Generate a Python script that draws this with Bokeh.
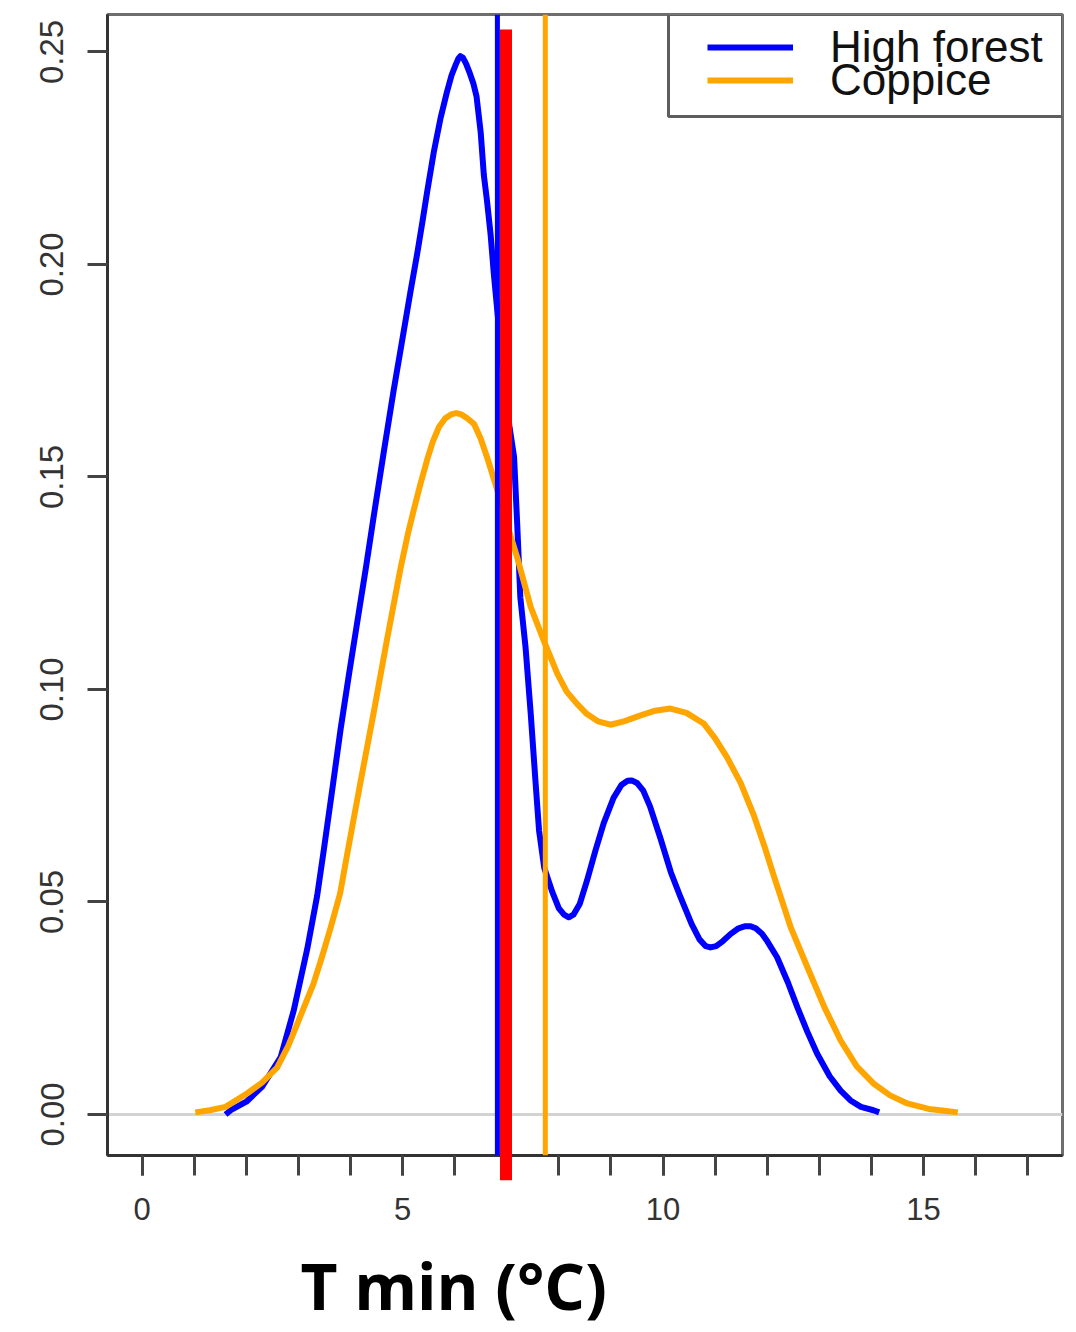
import numpy as np
from bokeh.plotting import figure
from bokeh.models import (Span, FixedTicker, PrintfTickFormatter, Legend, LegendItem,
                          Title, Range1d, BoxAnnotation)
from bokeh.embed import file_html
from bokeh.resources import INLINE

# ---- data ----
hf_x = [1.60, 1.70, 2.00, 2.30, 2.66, 2.91, 3.17, 3.36, 3.49, 3.65, 3.81, 3.97, 4.13, 4.30,
        4.45, 4.64, 4.83, 4.99, 5.15, 5.28, 5.38, 5.47, 5.60, 5.73, 5.85, 5.94, 6.02, 6.07,
        6.11, 6.16, 6.22, 6.29, 6.36, 6.42, 6.50, 6.56, 6.62, 6.69, 6.75, 6.85, 6.95, 7.05,
        7.14, 7.20, 7.26, 7.36, 7.46, 7.55, 7.62, 7.72, 7.87, 8.00, 8.10, 8.19, 8.28, 8.40,
        8.54, 8.70, 8.86, 9.05, 9.20, 9.32, 9.40, 9.50, 9.62, 9.75, 9.95, 10.15, 10.34,
        10.55, 10.70, 10.82, 10.91, 11.02, 11.15, 11.30, 11.45, 11.58, 11.68, 11.78, 11.90,
        12.00, 12.19, 12.40, 12.58, 12.77, 12.96, 13.20, 13.41, 13.60, 13.80, 14.04, 14.15]
hf_y = [0.0000, 0.0010, 0.0030, 0.0065, 0.0135, 0.0245, 0.0390, 0.0515, 0.0625, 0.0765,
        0.0907, 0.1035, 0.1159, 0.1290, 0.1411, 0.1560, 0.1705, 0.1820, 0.1935, 0.2025,
        0.2100, 0.2170, 0.2265, 0.2345, 0.2405, 0.2445, 0.2470, 0.2484, 0.2490, 0.2486,
        0.2472, 0.2450, 0.2425, 0.2395, 0.2310, 0.2210, 0.2150, 0.2070, 0.1980, 0.1850,
        0.1720, 0.1620, 0.1547, 0.1390, 0.1217, 0.1100, 0.0943, 0.0786, 0.0668, 0.0580,
        0.0525, 0.0485, 0.0470, 0.0464, 0.0470, 0.0495, 0.0550, 0.0620, 0.0685, 0.0745,
        0.0775, 0.0785, 0.0786, 0.0780, 0.0762, 0.0725, 0.0650, 0.0570, 0.0510, 0.0448,
        0.0412, 0.0396, 0.0393, 0.0396, 0.0408, 0.0425, 0.0438, 0.0443, 0.0443, 0.0438,
        0.0425, 0.0408, 0.0370, 0.0310, 0.0252, 0.0195, 0.0143, 0.0090, 0.0056, 0.0033,
        0.0018, 0.0010, 0.0005]

cp_x = [1.02, 1.30, 1.60, 2.02, 2.30, 2.59, 2.80, 2.98, 3.29, 3.45, 3.62, 3.80, 3.94, 4.19,
        4.45, 4.70, 4.96, 5.10, 5.22, 5.34, 5.47, 5.58, 5.70, 5.82, 5.93, 6.03, 6.13, 6.24,
        6.37, 6.50, 6.62, 6.82, 7.00, 7.20, 7.46, 7.71, 7.97, 8.15, 8.35, 8.54, 8.75, 8.99,
        9.25, 9.57, 9.85, 10.14, 10.45, 10.78, 11.00, 11.23, 11.49, 11.74, 11.95, 12.13,
        12.45, 12.77, 13.10, 13.41, 13.72, 14.04, 14.36, 14.69, 15.10, 15.40, 15.66]
cp_y = [0.0005, 0.0010, 0.0018, 0.0050, 0.0075, 0.0110, 0.0160, 0.0214, 0.0308, 0.0370,
        0.0440, 0.0520, 0.0615, 0.0781, 0.0949, 0.1117, 0.1285, 0.1365, 0.1425, 0.1482,
        0.1540, 0.1583, 0.1618, 0.1638, 0.1647, 0.1650, 0.1647, 0.1638, 0.1625, 0.1590,
        0.1547, 0.1468, 0.1390, 0.1311, 0.1194, 0.1115, 0.1037, 0.0995, 0.0966, 0.0942,
        0.0925, 0.0917, 0.0925, 0.0939, 0.0950, 0.0955, 0.0945, 0.0920, 0.0885, 0.0840,
        0.0780, 0.0705, 0.0630, 0.0560, 0.0441, 0.0347, 0.0252, 0.0174, 0.0113, 0.0073,
        0.0045, 0.0026, 0.0013, 0.0009, 0.0005]

mean_hf = 6.82      # blue vertical line
mean_cp = 7.74      # orange vertical line
mean_all = 6.985    # red bar
red_top = 0.2553
red_bottom = -0.0155

x_major = [0, 5, 10, 15]
x_minor = list(range(0, 18))
y_ticks = [0.0, 0.05, 0.10, 0.15, 0.20, 0.25]
series_labels = ["High forest", "Coppice"]

BLUE = "#0000FF"
ORANGE = "#FFA500"
RED = "#FF0000"

p = figure(frame_width=955, frame_height=1141,
           x_range=Range1d(-0.666, 17.67), y_range=Range1d(-0.00965, 0.2588),
           output_backend="svg", toolbar_location=None,
           min_border_left=107, min_border_top=14, min_border_right=12, min_border_bottom=172)

p.background_fill_color = "white"
p.border_fill_color = "white"
p.outline_line_color = "#6e6e6e"
p.outline_line_width = 3
p.xgrid.visible = False
p.ygrid.visible = False

# axes
xa = p.xaxis[0]
xa.ticker = FixedTicker(ticks=x_major, minor_ticks=x_minor)
xa.axis_line_color = "#333333"
xa.axis_line_width = 3
xa.major_tick_out = 20
xa.major_tick_in = 0
xa.minor_tick_out = 20
xa.minor_tick_in = 0
xa.major_tick_line_color = "#444444"
xa.minor_tick_line_color = "#444444"
xa.major_tick_line_width = 3
xa.minor_tick_line_width = 3
xa.major_label_text_font = "Liberation Sans"
xa.major_label_text_font_size = "31px"
xa.major_label_text_color = "#333333"
xa.major_label_standoff = 22

ya = p.yaxis[0]
ya.ticker = FixedTicker(ticks=y_ticks)
ya.formatter = PrintfTickFormatter(format="%.2f")
ya.axis_line_color = "#333333"
ya.axis_line_width = 3
ya.major_tick_out = 20
ya.major_tick_in = 0
ya.minor_tick_out = 0
ya.minor_tick_in = 0
ya.major_tick_line_color = "#444444"
ya.major_tick_line_width = 3
ya.major_label_orientation = "vertical"
ya.major_label_text_font = "Liberation Sans"
ya.major_label_text_font_size = "33px"
ya.major_label_text_color = "#333333"
ya.major_label_standoff = 24

# zero line
p.add_layout(Span(location=0, dimension="width", line_color="#d3d3d3", line_width=3,
                  level="underlay"))

# density curves
r_hf = p.line(hf_x, hf_y, line_color=BLUE, line_width=6, line_join="round")
r_cp = p.line(cp_x, cp_y, line_color=ORANGE, line_width=6, line_join="round")

# vertical reference lines
p.add_layout(Span(location=mean_cp, dimension="height", line_color=ORANGE, line_width=5))
p.add_layout(Span(location=mean_hf, dimension="height", line_color=BLUE, line_width=5))
p.segment(x0=[mean_all], y0=[red_bottom], x1=[mean_all], y1=[red_top],
          line_color=RED, line_width=12, line_cap="butt", level="overlay")

# legend frame (canvas pixels) and two tightly stacked legend entries
p.add_layout(BoxAnnotation(left=668, right=1062, top=14, bottom=116,
                           left_units="canvas", right_units="canvas",
                           top_units="canvas", bottom_units="canvas",
                           fill_color="white", fill_alpha=1,
                           line_color="#5e5e5e", line_width=3, line_alpha=1))

common = dict(margin=0, padding=0, glyph_width=86, glyph_height=20,
              label_standoff=37, label_height=20,
              label_text_font="Liberation Sans", label_text_font_size="44px",
              label_text_color="#111111", border_line_color=None,
              background_fill_alpha=0)
p.add_layout(Legend(items=[LegendItem(label=series_labels[0], renderers=[r_hf])],
                    location=(600, 1083), **common))
p.add_layout(Legend(items=[LegendItem(label=series_labels[1], renderers=[r_cp])],
                    location=(600, 1050), **common))

p.add_layout(Title(text="T min (°C)", align="left", offset=193, standoff=34,
                   text_font="Open Sans", text_font_size="64px", text_font_style="bold",
                   text_color="black"), "below")

open("out.html", "w").write(file_html(p, INLINE))
